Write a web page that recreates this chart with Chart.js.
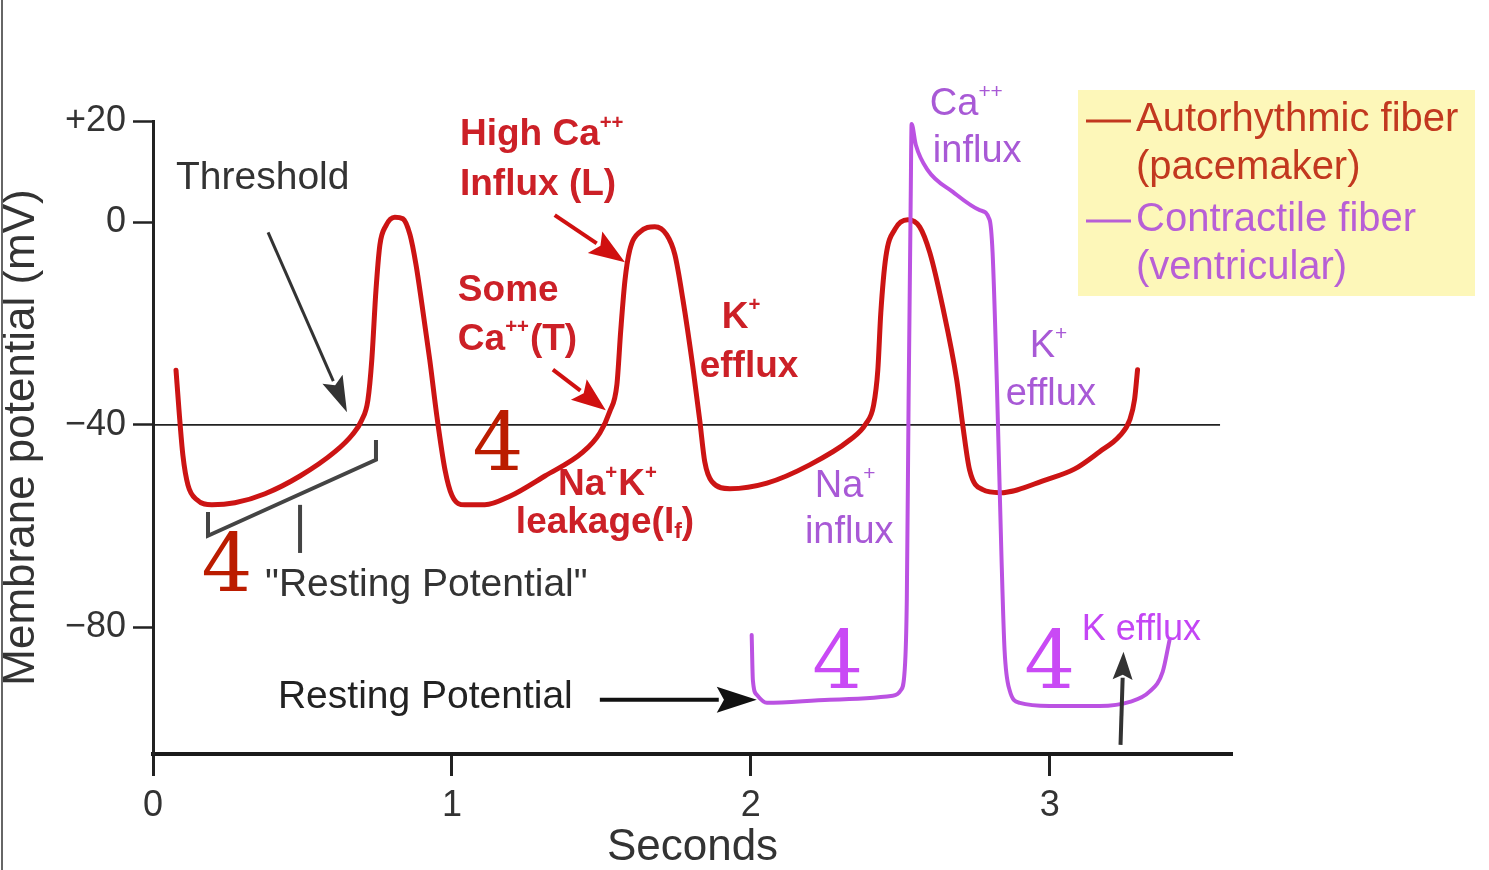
<!DOCTYPE html>
<html>
<head>
<meta charset="utf-8">
<script src="https://cdn.jsdelivr.net/npm/chart.js@4"></script>
<style>
  html, body { margin: 0; padding: 0; background: #fff; }
  #wrap { width: 1489px; height: 870px; }
</style>
</head>
<body>
<div id="wrap"><canvas id="c" width="1489" height="870"></canvas></div>
<script>
// ---------------- DATA ----------------
// Autorhythmic (pacemaker) fiber: time (s) and membrane potential (mV)
const redT = [0.077,0.087,0.100,0.117,0.147,0.197,0.274,0.375,0.492,0.609,0.666,0.699,0.719,0.732,0.746,0.759,0.779,0.809,0.836,0.860,0.880,0.900,0.926,0.950,0.977,1.000,1.043,1.110,1.194,1.311,1.438,1.495,1.528,1.552,1.565,1.579,1.595,1.629,1.679,1.719,1.746,1.773,1.806,1.829,1.846,1.870,1.930,2.054,2.197,2.331,2.385,2.411,2.425,2.435,2.452,2.482,2.525,2.565,2.599,2.642,2.689,2.709,2.732,2.776,2.833,2.990,3.084,3.167,3.234,3.268,3.284,3.294];
const redV = [-29.2,-37.1,-46.0,-51.9,-54.8,-55.8,-55.4,-53.6,-50.1,-45.3,-42.0,-39.0,-35.1,-27.2,-13.4,-4.5,-0.7,1.0,0.7,-2.5,-8.4,-16.3,-27.2,-38.4,-48.9,-53.9,-55.8,-55.8,-54.1,-50.1,-45.4,-41.6,-37.4,-32.1,-21.3,-11.5,-5.5,-1.9,-0.9,-2.5,-6.4,-15.3,-28.5,-39.0,-47.3,-51.2,-52.6,-51.5,-47.9,-43.0,-39.8,-36.1,-29.2,-17.9,-6.8,-1.4,0.5,-0.9,-6.0,-16.7,-31.1,-40.0,-48.9,-52.8,-53.4,-50.8,-48.7,-45.3,-42.2,-39.0,-35.0,-29.1];

// Contractile (ventricular) fiber
const purpleT = [2.003,2.007,2.020,2.054,2.264,2.475,2.502,2.515,2.522,2.528,2.535,2.538,2.552,2.592,2.676,2.766,2.799,2.809,2.823,2.839,2.849,2.866,2.900,3.000,3.167,3.268,3.334,3.378,3.401];
const purpleV = [-81.5,-90.4,-93.3,-94.9,-94.3,-93.5,-92.4,-88.4,-74.6,-35.1,4.4,19.4,15.3,10.3,6.0,2.4,0.5,-6.0,-31.1,-66.6,-84.4,-92.4,-94.9,-95.5,-95.5,-94.7,-92.7,-88.8,-82.5];

// Threshold level
const thresholdT = [0, 3.57];
const thresholdV = [-40, -40];

// Axis ticks
const xTicks = [0, 1, 2, 3];
const xTickLabels = ['0', '1', '2', '3'];
const yTicks = [20, 0, -40, -80];
const yTickLabels = ['+20', '0', '\u221240', '\u221280'];

const seriesNames = ['Autorhythmic fiber', '(pacemaker)', 'Contractile fiber', '(ventricular)'];

// ---------------- STYLE / ANNOTATIONS ----------------
const FONT = '"Liberation Sans", Arial, Helvetica, sans-serif';
const SERIF = '"DejaVu Serif", "Liberation Serif", serif';
const RED = '#cc1414';
const PURPLE = '#bb52e2';
const RED_TXT = '#cc2027';
const PURP_TXT = '#a859d6';
const GRAY_TXT = '#333333';

const zip = (a, b) => a.map((x, i) => ({ x: x, y: b[i] }));

// annotation anchors in data units (t seconds, v mV)
const texts = [
  { parts: [{t:'Threshold'}], t: 0.077, v: 8.6, size: 39, weight: 'normal', color: GRAY_TXT },
  { parts: [{t:'High Ca'},{t:'++',sup:true}], t: 1.027, v: 17.2, size: 37, weight: 'bold', color: RED_TXT },
  { parts: [{t:'Influx (L)'}], t: 1.027, v: 7.4, size: 37, weight: 'bold', color: RED_TXT },
  { parts: [{t:'Some'}], t: 1.020, v: -13.5, size: 37, weight: 'bold', color: RED_TXT },
  { parts: [{t:'Ca'},{t:'++',sup:true},{t:'(T)'}], t: 1.020, v: -23.2, size: 37, weight: 'bold', color: RED_TXT },
  { parts: [{t:'K'},{t:'+',sup:true}], t: 1.903, v: -18.9, size: 37, weight: 'bold', color: RED_TXT },
  { parts: [{t:'efflux'}], t: 1.829, v: -28.6, size: 37, weight: 'bold', color: RED_TXT },
  { parts: [{t:'Na'},{t:'+',sup:true},{t:'K'},{t:'+',sup:true}], t: 1.355, v: -51.9, size: 37, weight: 'bold', color: RED_TXT },
  { parts: [{t:'leakage(I'},{t:'f',sub:true},{t:')'}], t: 1.214, v: -59.4, size: 37, weight: 'bold', color: RED_TXT },
  { parts: [{t:'"Resting Potential"'}], t: 0.375, v: -71.6, size: 39, weight: 'normal', color: GRAY_TXT },
  { parts: [{t:'Resting Potential'}], t: 0.418, v: -93.7, size: 39, weight: 'normal', color: '#222' },
  { parts: [{t:'Ca'},{t:'++',sup:true}], t: 2.599, v: 23.2, size: 38, weight: 'normal', color: PURP_TXT },
  { parts: [{t:'influx'}], t: 2.609, v: 13.9, size: 38, weight: 'normal', color: PURP_TXT },
  { parts: [{t:'K'},{t:'+',sup:true}], t: 2.933, v: -24.6, size: 38, weight: 'normal', color: PURP_TXT },
  { parts: [{t:'efflux'}], t: 2.853, v: -34.1, size: 38, weight: 'normal', color: PURP_TXT },
  { parts: [{t:'Na'},{t:'+',sup:true}], t: 2.214, v: -52.2, size: 38, weight: 'normal', color: PURP_TXT },
  { parts: [{t:'influx'}], t: 2.181, v: -61.2, size: 38, weight: 'normal', color: PURP_TXT },
  { parts: [{t:'K efflux'}], t: 3.107, v: -80.5, size: 36, weight: 'normal', color: '#c445f5' }
];
const fours = [
  { t: 0.247, v: -68.3, color: '#bb1c00' },
  { t: 1.154, v: -44.4, color: '#bb1c00' },
  { t: 2.291, v: -87.4, color: '#c94af5' },
  { t: 3.000, v: -87.4, color: '#c94af5' }
];
const arrows = [
  { t1: 0.385, v1: -2.0, t2: 0.649, v2: -37.5, color: '#333', lw: 3, hl: 36, hw: 22 },
  { t1: 1.344, v1: 1.4, t2: 1.579, v2: -7.9, color: '#d01010', lw: 4, hl: 36, hw: 26 },
  { t1: 1.338, v1: -29.1, t2: 1.515, v2: -37.1, color: '#d01010', lw: 4, hl: 34, hw: 26 },
  { t1: 1.495, v1: -94.3, t2: 2.020, v2: -94.3, color: '#111', lw: 4, hl: 40, hw: 26 },
  { t1: 3.237, v1: -103.2, t2: 3.247, v2: -84.8, color: '#333', lw: 4, hl: 28, hw: 20 }
];
const bracketPaths = [
  [[0.184, -57.2], [0.184, -61.9], [0.746, -46.9], [0.746, -43.0]],
  [[0.492, -55.8], [0.492, -65.3]]
];

// ---------------- DRAWING HELPERS ----------------
function drawRich(ctx, parts, x, y, size, weight, color) {
  ctx.fillStyle = color;
  ctx.textBaseline = 'middle';
  ctx.textAlign = 'left';
  let cx = x;
  for (const p of parts) {
    let s = size, dy = 0;
    if (p.sup) { s = size * 0.55; dy = -size * 0.33; }
    if (p.sub) { s = size * 0.62; dy = size * 0.22; }
    ctx.font = weight + ' ' + s + 'px ' + FONT;
    ctx.fillText(p.t, cx, y + dy);
    cx += ctx.measureText(p.t).width + (p.sup ? 1 : 0);
  }
}
function drawArrow(ctx, x1, y1, x2, y2, color, lw, hl, hw) {
  const a = Math.atan2(y2 - y1, x2 - x1);
  const bx = x2 - hl * Math.cos(a), by = y2 - hl * Math.sin(a);
  ctx.strokeStyle = color; ctx.fillStyle = color; ctx.lineWidth = lw; ctx.lineCap = 'butt';
  ctx.beginPath(); ctx.moveTo(x1, y1); ctx.lineTo(bx + Math.cos(a) * 2, by + Math.sin(a) * 2); ctx.stroke();
  ctx.beginPath();
  ctx.moveTo(x2, y2);
  ctx.lineTo(bx + Math.sin(a) * hw / 2, by - Math.cos(a) * hw / 2);
  ctx.lineTo(bx + Math.cos(a) * hl * 0.18, by + Math.sin(a) * hl * 0.18);
  ctx.lineTo(bx - Math.sin(a) * hw / 2, by + Math.cos(a) * hw / 2);
  ctx.closePath(); ctx.fill();
}

const decorPlugin = {
  id: 'decor',
  beforeDraw(chart) {
    const ctx = chart.ctx;
    ctx.save();
    ctx.fillStyle = '#fff';
    ctx.fillRect(0, 0, chart.width, chart.height);
    ctx.restore();
  },
  afterDraw(chart) {
    const ctx = chart.ctx;
    const xs = chart.scales.x, ys = chart.scales.y;
    const X = t => xs.getPixelForValue(t), Y = v => ys.getPixelForValue(v);
    ctx.save();
    // bracket
    ctx.strokeStyle = '#444'; ctx.lineWidth = 4; ctx.lineJoin = 'miter'; ctx.lineCap = 'butt';
    for (const path of bracketPaths) {
      ctx.beginPath();
      path.forEach((p, i) => i ? ctx.lineTo(X(p[0]), Y(p[1])) : ctx.moveTo(X(p[0]), Y(p[1])));
      ctx.stroke();
    }
    // arrows
    for (const a of arrows) drawArrow(ctx, X(a.t1), Y(a.v1), X(a.t2), Y(a.v2), a.color, a.lw, a.hl, a.hw);
    // texts
    for (const tx of texts) drawRich(ctx, tx.parts, X(tx.t), Y(tx.v), tx.size, tx.weight, tx.color);
    // phase 4 labels
    ctx.textAlign = 'center'; ctx.textBaseline = 'middle';
    ctx.font = '80px ' + SERIF;
    for (const f of fours) { ctx.fillStyle = f.color; ctx.fillText('4', X(f.t), Y(f.v) + 2); }
    // legend box
    ctx.fillStyle = '#fdf7b9';
    ctx.fillRect(1078, 90, 397, 206);
    const legColors = ['#c2381f', '#c2381f', '#b85fd6', '#b85fd6'];
    const legY = [120, 168, 220, 268];
    ctx.font = '40px ' + FONT; ctx.textAlign = 'left'; ctx.textBaseline = 'middle';
    seriesNames.forEach((s, i) => {
      ctx.fillStyle = legColors[i];
      ctx.fillText(s, 1136, legY[i]);
      if (i % 2 === 0) {
        ctx.strokeStyle = legColors[i]; ctx.lineWidth = 3;
        ctx.beginPath(); ctx.moveTo(1086, legY[i] + 1); ctx.lineTo(1131, legY[i] + 1); ctx.stroke();
      }
    });
    // left border of the scan
    ctx.strokeStyle = '#666'; ctx.lineWidth = 2;
    ctx.beginPath(); ctx.moveTo(2, 0); ctx.lineTo(2, chart.height); ctx.stroke();
    ctx.restore();
  }
};

Chart.defaults.font.family = FONT;

new Chart(document.getElementById('c'), {
  type: 'line',
  data: {
    datasets: [
      { label: 'Contractile fiber (ventricular)', data: zip(purpleT, purpleV), borderColor: PURPLE, borderWidth: 4,
        pointRadius: 0, cubicInterpolationMode: 'monotone', borderJoinStyle: 'round', borderCapStyle: 'round', fill: false, order: 0 },
      { label: 'Autorhythmic fiber (pacemaker)', data: zip(redT, redV), borderColor: RED, borderWidth: 5,
        pointRadius: 0, cubicInterpolationMode: 'monotone', borderJoinStyle: 'round', borderCapStyle: 'round', fill: false, order: 1 },
      { label: 'Threshold', data: zip(thresholdT, thresholdV), borderColor: '#222', borderWidth: 1.6,
        pointRadius: 0, tension: 0, fill: false, order: 2 }
    ]
  },
  options: {
    responsive: false,
    animation: false,
    devicePixelRatio: 1,
    layout: { padding: { left: 0, top: 121, right: 257, bottom: 0 } },
    plugins: { legend: { display: false }, tooltip: { enabled: false } },
    scales: {
      x: {
        type: 'linear', min: 0, max: 3.61,
        afterBuildTicks: s => { s.ticks = xTicks.map(v => ({ value: v })); },
        afterFit: s => { s.height = 116; },
        border: { color: '#1a1a1a', width: 4 },
        grid: { drawOnChartArea: false, drawTicks: true, tickLength: 22, tickColor: '#222', tickWidth: 3 },
        ticks: { color: '#333', font: { size: 36 }, padding: 8, maxRotation: 0,
          callback: v => xTickLabels[xTicks.indexOf(v)] },
        title: { display: true, text: 'Seconds', color: '#333', font: { size: 44, lineHeight: 1 }, padding: { top: 0, bottom: 0 } }
      },
      y: {
        type: 'linear', min: -105, max: 20,
        afterBuildTicks: s => { s.ticks = yTicks.map(v => ({ value: v })); },
        afterFit: s => { s.width = 153; },
        border: { color: '#222', width: 3 },
        grid: { drawOnChartArea: false, drawTicks: true, tickLength: 20, tickColor: '#222', tickWidth: 2.5 },
        ticks: { color: '#333', font: { size: 36 }, padding: 7,
          callback: v => yTickLabels[yTicks.indexOf(v)] },
        title: { display: true, text: 'Membrane potential (mV)', color: '#333', font: { size: 44, lineHeight: 1 }, padding: { top: 0, bottom: 0 } }
      }
    }
  },
  plugins: [decorPlugin]
});
</script>
</body>
</html>
